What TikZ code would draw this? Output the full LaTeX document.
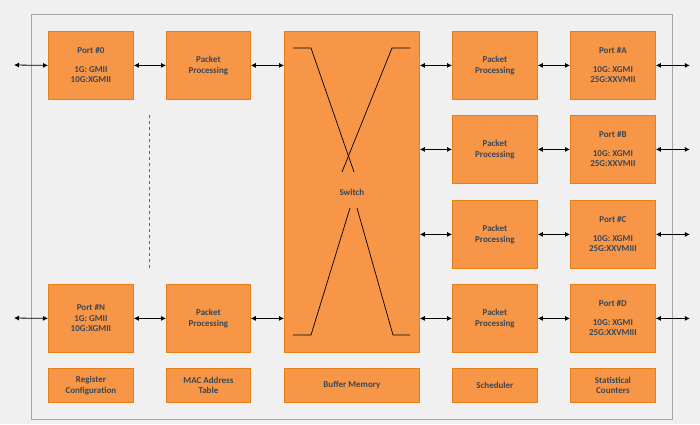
\documentclass[tikz,border=0pt]{standalone}
\usepackage{fontspec}
\setmainfont{Carlito}
\usetikzlibrary{calc,arrows.meta}
\begin{document}
\begin{tikzpicture}[x=1pt,y=-1pt,
 box/.style={draw=orange!60!brown,fill=ob,line width=0.8pt,text=tx,font=\bfseries\fontsize{9}{10.5}\selectfont,align=center,inner sep=0pt},
 ar/.style={{Latex[length=5pt,width=5pt]}-{Latex[length=5pt,width=5pt]},line width=0.8pt}]
\definecolor{ob}{HTML}{F79646}
\definecolor{tx}{HTML}{3A4656}
\fill[white!94!black] (0,0) rectangle (700,424);
\useasboundingbox (0,0) rectangle (700,424);
\draw[gray!70,line width=0.8pt] (31,14) rectangle (672,419);
% left
\node[box,minimum width=85,minimum height=68,anchor=north west,align=center] (p0) at (48,31) {Port \#0\\[8pt]1G: GMII\\10G:XGMII};
\node[box,minimum width=84,minimum height=68,anchor=north west] (pp0) at (166,31) {Packet\\Processing};
\node[box,minimum width=85,minimum height=68,anchor=north west] (pN) at (48,284) {Port \#N\\1G: GMII\\10G:XGMII};
\node[box,minimum width=84,minimum height=68,anchor=north west] (ppN) at (166,284) {Packet\\Processing};
\node[box,minimum width=135,minimum height=321,anchor=north west] (sw) at (284,31) {Switch};
\foreach \n/\y/\t in {A/31/10G: XGMI\\25G:XXVMII, B/115/10G: XGMI\\25G:XXVMII, C/200/10G: XGMI\\25G:XXVMIII, D/284/10G: XGMI\\25G:XXVMIII}{
 \node[box,minimum width=85,minimum height=68,anchor=north west] (pp\n) at (452,\y) {Packet\\Processing};
 \node[box,minimum width=85,minimum height=68,anchor=north west] (p\n) at (570,\y) {Port \#\n\\[8pt]\t};
}
\node[box,minimum width=85,minimum height=34,anchor=north west] (rc) at (48,368) {Register\\Configuration};
\node[box,minimum width=84,minimum height=34,anchor=north west] (mac) at (166,368) {MAC Address\\Table};
\node[box,minimum width=135,minimum height=34,anchor=north west] (bm) at (284,368) {Buffer Memory};
\node[box,minimum width=85,minimum height=34,anchor=north west] (sch) at (452,368) {Scheduler};
\node[box,minimum width=85,minimum height=34,anchor=north west] (sc) at (570,368) {Statistical\\Counters};
% switch lines
\draw[line width=0.7pt] (293,48) -- (311,48) -- (354,172);
\draw[line width=0.7pt] (410,48) -- (392,48) -- (342,172);
\draw[line width=0.7pt] (293,335) -- (311,335) -- (350,208);
\draw[line width=0.7pt] (410,335) -- (393,335) -- (357,208);
% dashed
\draw[gray!80!black,dashed,line width=0.6pt] (149,115) -- (149,268);
% arrows
\coordinate (l0) at (14,65); \coordinate (lN) at (14,318);
\draw[ar] (l0) -- (p0.west); \draw[ar] (p0) -- (pp0); \draw[ar] (pp0.east) -- (pp0.east-|sw.west);
\draw[ar] (lN) -- (pN.west); \draw[ar] (pN) -- (ppN); \draw[ar] (ppN.east) -- (ppN.east-|sw.west);
\foreach \n in {A,B,C,D}{
 \coordinate (r\n) at ($(p\n.east)+(34,0)$);
 \draw[ar] (pp\n.west-|sw.east) -- (pp\n.west);
 \draw[ar] (pp\n) -- (p\n);
 \draw[ar] (p\n.east) -- (r\n);
}
\end{tikzpicture}
\end{document}
